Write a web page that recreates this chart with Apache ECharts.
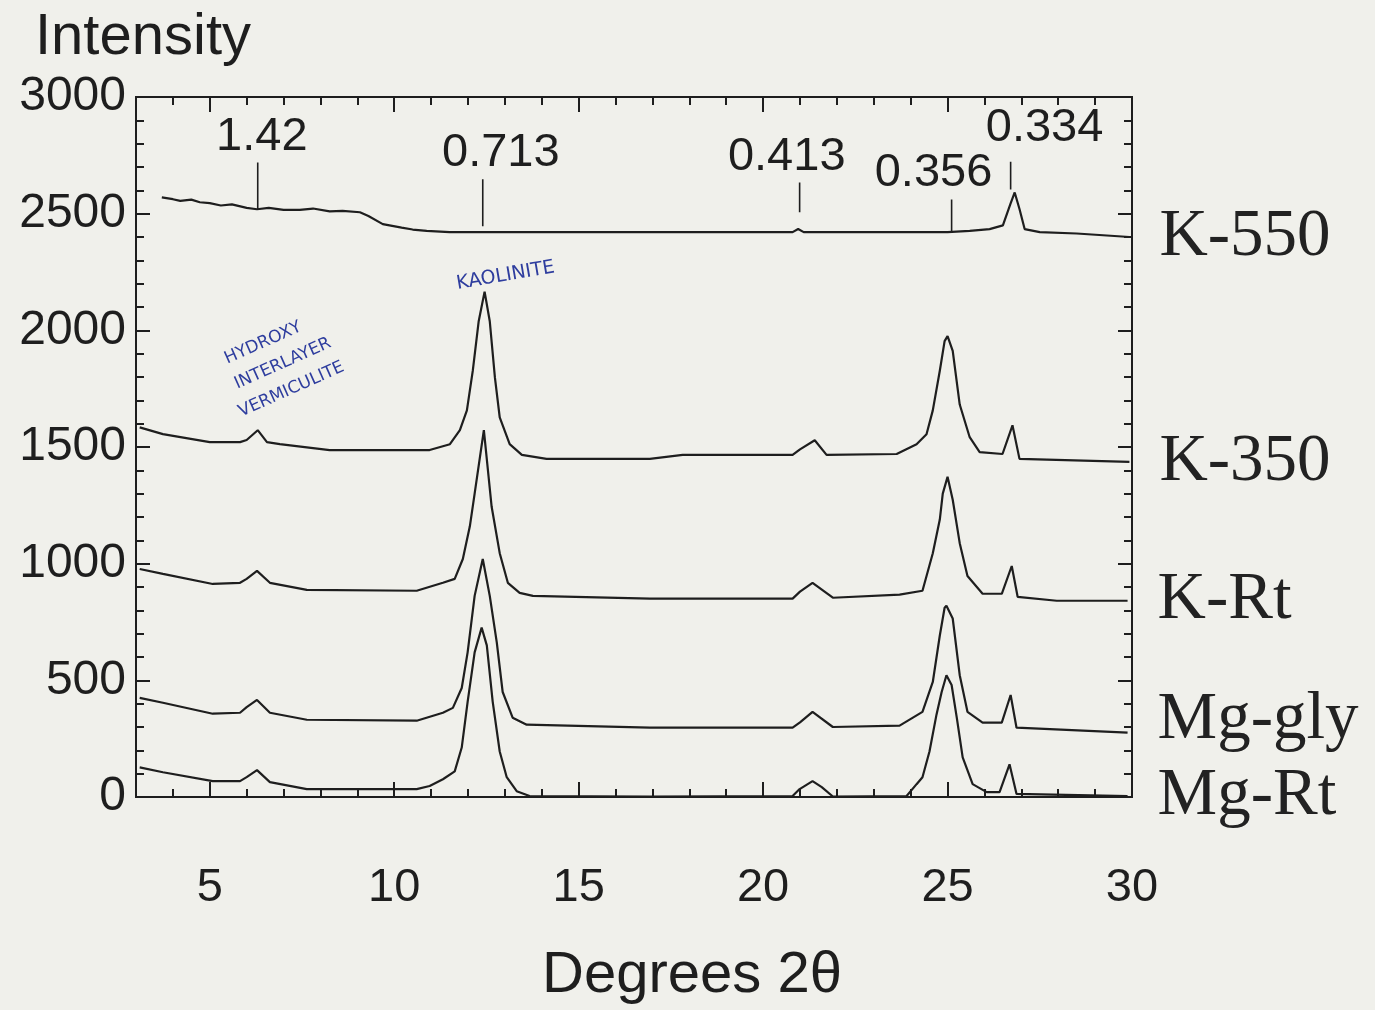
<!DOCTYPE html>
<html><head><meta charset="utf-8">
<script src="https://cdn.jsdelivr.net/npm/echarts@6/dist/echarts.min.js"></script>
<style>html,body{margin:0;padding:0;background:#f0f0eb}#c{width:1375px;height:1010px}</style>
</head><body><div id="c"></div>
<script>
// ---- data (2θ in degrees, intensity in counts) ----
const sampleNames = ['K-550', 'K-350', 'K-Rt', 'Mg-gly', 'Mg-Rt'];
const k550 = [[3.70,2570],[4.0,2562],[4.2,2555],[4.5,2560],[4.73,2549],[5.0,2545],[5.3,2535],[5.6,2540],[6.0,2525],[6.28,2519],[6.6,2525],[7.0,2516],[7.44,2516],[7.8,2522],[8.25,2510],[8.6,2512],[9.07,2506],[9.3,2490],[9.69,2455],[10.2,2440],[10.5,2432],[10.88,2426],[11.5,2421],[12.86,2421],[16.0,2421],[20.8,2421],[20.95,2434],[21.1,2421],[25.0,2421],[25.6,2426],[26.14,2434],[26.5,2450],[26.7,2540],[26.82,2591],[26.95,2520],[27.09,2434],[27.5,2421],[28.5,2415],[29.93,2400]];
const k350 = [[3.10,1584],[3.73,1555],[5.0,1521],[5.82,1521],[6.0,1530],[6.30,1572],[6.55,1521],[6.90,1512],[8.25,1487],[10.96,1487],[11.51,1512],[11.78,1572],[11.97,1657],[12.13,1827],[12.29,2039],[12.45,2166],[12.59,2039],[12.73,1797],[12.86,1627],[13.13,1512],[13.46,1466],[14.13,1449],[16.93,1449],[17.82,1466],[20.8,1466],[21.0,1490],[21.40,1529],[21.72,1466],[23.62,1470],[24.16,1512],[24.43,1555],[24.60,1657],[24.79,1827],[24.92,1954],[25.00,1975],[25.14,1912],[25.33,1682],[25.60,1542],[25.87,1478],[26.49,1470],[26.76,1593],[26.95,1449],[29.93,1436]];
const kRt = [[3.10,977],[3.73,956],[5.08,913],[5.82,918],[6.0,935],[6.28,969],[6.63,918],[7.63,888],[10.61,884],[11.32,918],[11.64,935],[11.86,1020],[12.05,1160],[12.18,1300],[12.43,1572],[12.64,1245],[12.86,1045],[13.08,918],[13.40,875],[13.76,862],[16.93,850],[20.8,850],[21.0,880],[21.34,918],[21.89,854],[23.70,867],[24.32,884],[24.60,1045],[24.79,1189],[24.87,1300],[25.0,1372],[25.14,1274],[25.33,1088],[25.54,947],[25.95,871],[26.47,871],[26.74,990],[26.90,858],[27.96,841],[29.88,841]];
const mgGly = [[3.10,425],[3.73,404],[5.08,357],[5.82,361],[6.0,385],[6.28,416],[6.63,361],[7.63,331],[10.61,327],[11.32,361],[11.59,382],[11.83,467],[11.99,620],[12.18,862],[12.40,1020],[12.59,862],[12.78,663],[12.94,450],[13.21,340],[13.59,310],[16.93,297],[20.8,297],[21.0,320],[21.34,365],[21.89,300],[23.70,306],[24.32,365],[24.60,493],[24.79,692],[24.92,811],[24.97,820],[25.14,765],[25.33,522],[25.54,365],[25.95,319],[26.47,319],[26.71,437],[26.87,297],[29.88,276]];
const mgRt = [[3.10,127],[3.73,106],[5.08,68],[5.82,68],[6.0,85],[6.28,115],[6.63,64],[7.63,34],[10.61,34],[10.96,47],[11.32,76],[11.64,110],[11.83,212],[11.99,408],[12.18,620],[12.37,726],[12.51,650],[12.67,408],[12.86,195],[13.05,85],[13.32,25],[13.67,4],[16.93,2],[20.80,4],[20.99,34],[21.34,68],[21.59,42],[21.89,2],[23.89,4],[24.16,55],[24.32,85],[24.51,195],[24.70,353],[24.84,450],[24.97,522],[25.11,480],[25.25,340],[25.41,170],[25.68,55],[26.06,21],[26.41,21],[26.68,140],[26.87,13],[29.88,4]];
const sampleData = [k550, k350, kRt, mgGly, mgRt];

const dSpacingLabels = ['1.42', '0.713', '0.413', '0.356', '0.334'];
const dSpacingTheta = [6.30, 12.40, 20.99, 25.11, 26.71];
const dSpacingLineTop = [2719, 2647, 2634, 2561, 2723];
const dSpacingLineBottom = [2519, 2446, 2506, 2421, 2604];
const dSpacingLabelTheta = [6.41, 12.89, 20.64, 24.62, 27.63];
const dSpacingLabelValue = [2829, 2761, 2744, 2676, 2867];

const xTickLabels = [5, 10, 15, 20, 25, 30];
const xMin = 3, xMax = 30;
const yMin = 0, yMax = 3000, yStep = 500;

// ---- chart ----
const INK = '#1e1e1e';
const SANS = "'Liberation Sans', Arial, sans-serif";
const SERIF = "'Liberation Serif', 'Times New Roman', serif";
const BLUE = '#2e3d9e';
const chart = echarts.init(document.getElementById('c'), null, {renderer: 'canvas'});

function xAx(position, longTicks) {
  const a = {
    type: 'value', position: position, min: xMin, max: xMax,
    axisLine: {show: true, onZero: false, lineStyle: {color: INK, width: 2}},
    splitLine: {show: false},
    axisLabel: {show: false}
  };
  if (longTicks) {
    a.axisTick = {show: true, inside: true, length: 15, customValues: xTickLabels, lineStyle: {color: INK, width: 2}};
    if (position === 'bottom') {
      a.axisLabel = {show: true, customValues: xTickLabels, margin: 68, fontSize: 47, color: INK, fontFamily: SANS};
      a.name = 'Degrees 2θ';
      a.nameLocation = 'middle';
      a.nameGap = 150;
      a.nameTextStyle = {fontSize: 58, color: INK, fontFamily: SANS, padding: [0, 0, 0, 116]};
    }
  } else {
    a.interval = 1;
    a.axisTick = {show: true, inside: true, length: 8, lineStyle: {color: INK, width: 2}};
  }
  return a;
}
function yAx(position, labels) {
  return {
    type: 'value', position: position, min: yMin, max: yMax, interval: yStep,
    axisLine: {show: true, onZero: false, lineStyle: {color: INK, width: 2}},
    axisTick: {show: true, inside: true, length: 14, lineStyle: {color: INK, width: 2}},
    minorTick: {show: true, splitNumber: 5, length: 8, lineStyle: {color: INK, width: 2}},
    splitLine: {show: false},
    axisLabel: {show: labels, fontSize: 48, color: INK, fontFamily: SANS, margin: 10,
      formatter: v => String(v)}
  };
}

const endOffsets = [[0, 0], [0, 0], [0, 0], [0, -12], [0, 0]];
const series = sampleData.map((d, i) => ({
  type: 'line', name: sampleNames[i], data: d, xAxisIndex: 0, yAxisIndex: 0,
  showSymbol: false, symbol: 'none', clip: false,
  lineStyle: {color: INK, width: 2.2},
  endLabel: {show: true, formatter: sampleNames[i], distance: 30, offset: endOffsets[i],
    fontFamily: SERIF, fontSize: 67, color: '#222'}
}));
dSpacingLabels.forEach((lab, i) => {
  series.push({
    type: 'line', data: [[dSpacingTheta[i], dSpacingLineBottom[i]], [dSpacingTheta[i], dSpacingLineTop[i]]],
    showSymbol: false, symbol: 'none', lineStyle: {color: INK, width: 1.6}, silent: true
  });
});
series.push({
  type: 'scatter', symbolSize: 0, silent: true,
  itemStyle: {opacity: 1},
  data: dSpacingLabels.map((l, i) => ({value: [dSpacingLabelTheta[i], dSpacingLabelValue[i]], name: l})),
  label: {show: true, position: 'inside', formatter: p => p.name, fontSize: 47, color: INK, fontFamily: SANS}
});

chart.setOption({
  backgroundColor: '#f0f0eb',
  animation: false,
  title: {text: 'Intensity', left: 30, top: 4, textStyle: {fontSize: 58, fontWeight: 'normal', color: INK, fontFamily: SANS}},
  grid: {left: 136, right: 243, top: 97, bottom: 207, containLabel: false},
  xAxis: [xAx('bottom', false), xAx('bottom', true), xAx('top', false), xAx('top', true)],
  yAxis: [yAx('left', true), yAx('right', false)],
  series: series,
  graphic: [
    {type: 'text', left: 455, top: 258, rotation: 0.17,
      style: {text: 'KAOLINITE', font: '19px "DejaVu Sans"', fill: BLUE}},
    {type: 'text', x: 222, y: 352, rotation: 0.42,
      style: {text: 'HYDROXY', font: '17px "DejaVu Sans"', fill: BLUE}},
    {type: 'text', x: 232, y: 377, rotation: 0.42,
      style: {text: 'INTERLAYER', font: '17px "DejaVu Sans"', fill: BLUE}},
    {type: 'text', x: 236, y: 405, rotation: 0.42,
      style: {text: 'VERMICULITE', font: '17px "DejaVu Sans"', fill: BLUE}}
  ]
});
</script></body></html>
